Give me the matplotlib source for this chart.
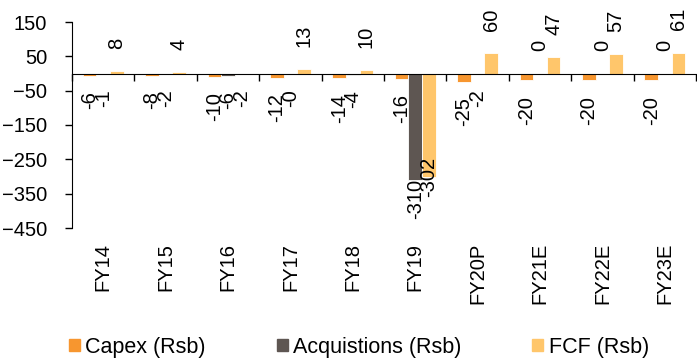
import numpy as np
import matplotlib.pyplot as plt
from matplotlib.patches import Patch

plt.rcParams['font.family'] = ['Liberation Sans', 'DejaVu Sans']

# Dados (Rs bn)
years = ['FY14', 'FY15', 'FY16', 'FY17', 'FY18', 'FY19', 'FY20P', 'FY21E', 'FY22E', 'FY23E']
capex = [-6, -8, -10, -12, -14, -16, -25, -20, -20, -20]
acquisitions = [-1, -2, -6, -0.4, -4, -310, -2, 0, 0, 0]
acq_labels = ['-1', '-2', '-6', '-0', '-4', '-310', '-2', '0', '0', '0']
fcf = [8, 4, -2, 13, 10, -302, 60, 47, 57, 61]

series = [
    ('Capex (Rsb)', capex, [str(v) for v in capex], '#F7962F'),
    ('Acquistions (Rsb)', acquisitions, acq_labels, '#5E5652'),
    ('FCF (Rsb)', fcf, [str(v) for v in fcf], '#FFC66B'),
]

fig = plt.figure(figsize=(6.97, 3.58), dpi=100)
ax = fig.add_axes([72 / 697, 1 - 228 / 358, 624 / 697, 206 / 358])

x = np.arange(len(years))
w = 0.218
offsets = [-w, 0, w]

for (name, vals, labels, color), off in zip(series, offsets):
    ax.bar(x + off, vals, width=w, color=color, edgecolor='white', linewidth=0.6)
    for xi, v, lab in zip(x + off, vals, labels):
        if v >= 0 and lab != '-0':
            ax.annotate(lab, (xi, v), xytext=(0, 16), textcoords='offset points',
                        rotation=90, ha='center', va='bottom', fontsize=14.5)
        elif v < -200 and name.startswith('FCF'):
            # rótulo grande fica centrado na ponta da barra
            ax.annotate(lab, (xi, v), xytext=(0, 0), textcoords='offset points',
                        rotation=90, ha='center', va='center', fontsize=14.5)
        elif v < -200:
            ax.annotate(lab, (xi, v), xytext=(0, 1), textcoords='offset points',
                        rotation=90, ha='center', va='top', fontsize=14.5)
        else:
            ax.annotate(lab, (xi, v), xytext=(0, -11), textcoords='offset points',
                        rotation=90, ha='center', va='top', fontsize=14.5)

ax.set_ylim(-450, 150)
ax.set_xlim(-0.5, len(years) - 0.5)
ax.set_yticks(np.arange(-450, 151, 100))
ax.tick_params(axis='y', labelsize=14.5, length=5, width=1, pad=13)

ax.spines['top'].set_visible(False)
ax.spines['right'].set_visible(False)
ax.spines['bottom'].set_position(('data', 0))

ax.set_xticks(x)
ax.set_xticklabels(years, rotation=90, fontsize=14.5, va='top')
ax.tick_params(axis='x', which='major', length=0, pad=122)
ax.set_xticks(np.arange(-0.5, len(years), 1), minor=True)
ax.tick_params(axis='x', which='minor', length=5, width=1, direction='out')

handles = [Patch(color=c) for _, _, _, c in series]
fig.legend(handles, [s[0] for s in series], loc='center', bbox_to_anchor=(0.515, 1 - 347 / 358),
           ncol=3, frameon=False, fontsize=15.5, handlelength=0.5, handleheight=0.5,
           handletextpad=0.25, columnspacing=3.3, borderaxespad=0)

fig.savefig('out.png', dpi=100)
